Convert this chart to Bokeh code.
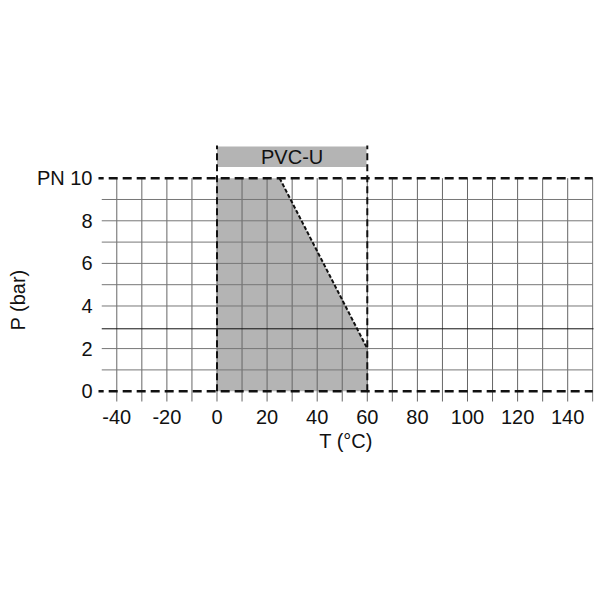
from bokeh.plotting import figure
from bokeh.models import FixedTicker, Range1d, Title
from bokeh.core.properties import value
from bokeh.embed import file_html
from bokeh.resources import INLINE

# ---- data ----
x_ticks = [-40, -20, 0, 20, 40, 60, 80, 100, 120, 140]
x_tick_labels = ["-40", "-20", "0", "20", "40", "60", "80", "100", "120", "140"]
y_ticks = [0, 2, 4, 6, 8, 10]
y_tick_labels = ["0", "2", "4", "6", "8", "PN 10"]
x_grid = [-40, -30, -20, -10, 0, 10, 20, 30, 40, 50, 60, 70, 80, 90, 100, 110, 120, 130, 140, 150]
y_grid = [1, 2, 4, 5, 6, 7, 8, 9]
y_ref = [2.93]
area_T = [0, 0, 25, 60, 60]
area_P = [0, 10, 10, 2, 0]
limit_T = [25, 60]
limit_P = [10, 2]
range_T = [0, 60]
range_P_top = 11.5
band_label = "PVC-U"
x_title = "T (°C)"
y_title = "P (bar)"

FONT = "Liberation Sans"

p = figure(width=598, height=508, output_backend="svg", toolbar_location=None,
           x_range=Range1d(-47.3, 150.3), y_range=Range1d(-0.484, 11.629),
           min_border_left=97, min_border_right=5, min_border_top=143,
           min_border_bottom=107)
p.outline_line_color = None
p.xgrid.visible = False
p.ygrid.visible = False

# filled operating area
p.patch(area_T, area_P, fill_color="#b4b4b4", line_color=None)

# grid lines
n = len(x_grid)
p.segment(x0=x_grid, y0=[-1] * n, x1=x_grid, y1=[10] * n, line_color="#666666", line_width=1)
m = len(y_grid)
p.segment(x0=[-46] * m, y0=y_grid, x1=[150] * m, y1=y_grid, line_color="#777777", line_width=1)
p.segment(x0=[-46] * len(y_ref), y0=y_ref, x1=[150.5] * len(y_ref), y1=y_ref, line_color="#111111", line_width=1)

# band on top
p.quad(left=[range_T[0]], right=[range_T[1] - 0.3], bottom=[10.52], top=[11.49],
       fill_color="#b4b4b4", line_color=None)
p.text(x=[sum(range_T) / 2], y=[11.0], text=[band_label], text_font=value(FONT),
       text_font_size="20px", text_align="center", text_baseline="middle", text_color="#111111")

# dashed limit lines
p.segment(x0=[-60, -60], y0=[0, 10], x1=[150, 150], y1=[0, 10],
          line_color="#111111", line_width=2.5, line_dash="9 5")
p.segment(x0=range_T, y0=[0, 0], x1=range_T, y1=[range_P_top + 0.03] * 2,
          line_color="#111111", line_width=2, line_dash="7 4")
p.line(limit_T, limit_P, line_color="#111111", line_width=2, line_dash="4 2")

# axes
for ax in (p.xaxis[0], p.yaxis[0]):
    ax.axis_line_color = None
    ax.major_tick_line_color = None
    ax.minor_tick_line_color = None
    ax.major_tick_out = 0
    ax.major_tick_in = 0
    ax.major_label_text_font = FONT
    ax.major_label_text_font_size = "20px"
    ax.major_label_text_color = "#111111"

p.xaxis.ticker = FixedTicker(ticks=x_ticks)
p.xaxis.major_label_overrides = {t: l for t, l in zip(x_ticks, x_tick_labels)}
p.xaxis.major_label_standoff = 8
p.xaxis.axis_label = x_title
p.xaxis.axis_label_text_font = FONT
p.xaxis.axis_label_text_font_size = "20px"
p.xaxis.axis_label_text_font_style = "normal"
p.xaxis.axis_label_text_color = "#111111"
p.xaxis.axis_label_standoff = 3

p.yaxis.ticker = FixedTicker(ticks=y_ticks)
p.yaxis.major_label_overrides = {t: l for t, l in zip(y_ticks, y_tick_labels)}
p.yaxis.major_label_standoff = 6

p.add_layout(Title(text=y_title, align="left", offset=71,
                   text_font=FONT, text_font_size="20px", text_color="#111111",
                   text_font_style="normal", standoff=9), "left")

open("out.html", "w").write(file_html(p, INLINE))
